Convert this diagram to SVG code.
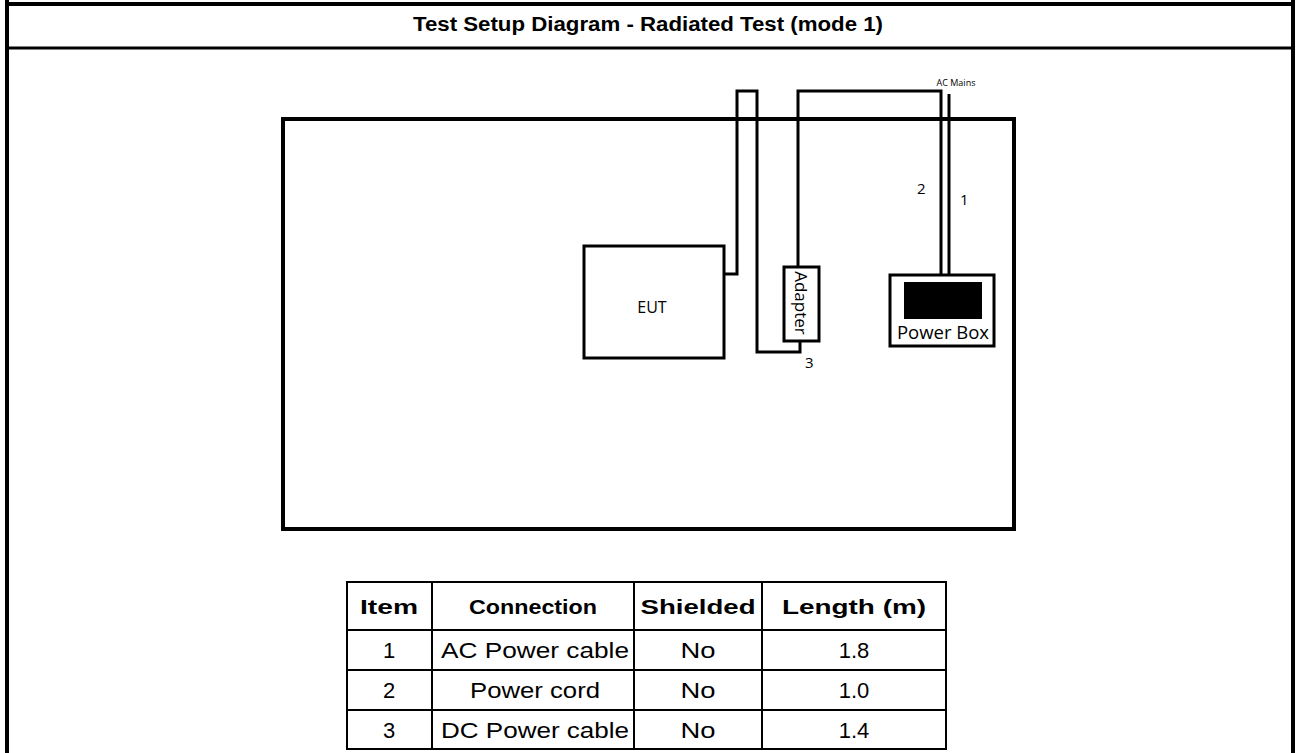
<svg xmlns="http://www.w3.org/2000/svg" width="1296" height="753" viewBox="0 0 1296 753">
<style>
.frame{fill:none;stroke:#000;stroke-width:4}
.cable{fill:none;stroke:#000;stroke-width:3}
.box{fill:#fff;stroke:#000;stroke-width:3}
.lbl{font-family:"Open Sans","Liberation Sans",sans-serif;fill:#000}
.tt{font-family:"Liberation Sans",Arial,sans-serif;font-size:20px;font-weight:bold;fill:#000;text-anchor:middle}
.th{font-family:"Liberation Sans",Arial,sans-serif;font-size:21px;font-weight:bold;text-anchor:middle}
.td{font-family:"Liberation Sans",Arial,sans-serif;font-size:22px;text-anchor:middle}
.tl{stroke:#000;stroke-width:2;fill:none}
</style>
<rect width="1296" height="753" fill="#fff"/>
<g id="frame">
<line x1="7" y1="0" x2="7" y2="753" class="frame"/>
<line x1="1293" y1="0" x2="1293" y2="753" class="frame"/>
<line x1="5" y1="4" x2="1295" y2="4" class="frame"/>
<line x1="5" y1="48" x2="1295" y2="48" stroke="#000" stroke-width="3"/>
<text x="648" y="31" class="tt" textLength="470" lengthAdjust="spacingAndGlyphs">Test Setup Diagram - Radiated Test (mode 1)</text>
</g>
<g id="board"><rect x="283" y="119" width="731" height="410" class="frame"/></g>
<g id="connectors">
<path d="M724,274 H737 V91 H757 V352 H800 V341" class="cable"/>
<path d="M798,267 V91 H941 V283" class="cable"/>
<path d="M949,94 V275" class="cable"/>
</g>
<g id="eut"><rect x="584" y="246" width="140" height="112" class="box"/><text x="652" y="313" class="lbl" style="font-size:16px" text-anchor="middle">EUT</text></g>
<g id="adapter"><rect x="784" y="267" width="35" height="74" class="box"/><text x="0" y="0" class="lbl" style="font-size:17px" text-anchor="middle" transform="translate(795,303) rotate(90)">Adapter</text></g>
<g id="powerbox"><rect x="890" y="275" width="104" height="71" class="box"/><rect x="904" y="282" width="78" height="37" fill="#000"/><text x="943" y="339" class="lbl" style="font-size:18.5px" text-anchor="middle">Power Box</text></g>
<g id="labels">
<text x="956" y="86" class="lbl" style="font-size:9px" text-anchor="middle">AC Mains</text>
<text x="917" y="194" class="lbl" style="font-size:15px">2</text>
<text x="960" y="205" class="lbl" style="font-size:15px">1</text>
<text x="805" y="368" class="lbl" style="font-size:15px">3</text>
</g>
<g id="table">
<rect x="347" y="582" width="599" height="167" class="tl"/>
<line x1="347" y1="630" x2="946" y2="630" class="tl"/>
<line x1="347" y1="670" x2="946" y2="670" class="tl"/>
<line x1="347" y1="710" x2="946" y2="710" class="tl"/>
<line x1="432" y1="582" x2="432" y2="749" class="tl"/>
<line x1="634" y1="582" x2="634" y2="749" class="tl"/>
<line x1="762" y1="582" x2="762" y2="749" class="tl"/>
<text x="389" y="614" class="th" textLength="58" lengthAdjust="spacingAndGlyphs">Item</text>
<text x="533" y="614" class="th" textLength="128" lengthAdjust="spacingAndGlyphs">Connection</text>
<text x="698" y="614" class="th" textLength="115" lengthAdjust="spacingAndGlyphs">Shielded</text>
<text x="854" y="614" class="th" textLength="144" lengthAdjust="spacingAndGlyphs">Length (m)</text>
<text x="389" y="658" class="td">1</text>
<text x="535" y="658" class="td" textLength="188" lengthAdjust="spacingAndGlyphs">AC Power cable</text>
<text x="698" y="658" class="td" textLength="35" lengthAdjust="spacingAndGlyphs">No</text>
<text x="854" y="658" class="td">1.8</text>
<text x="389" y="698" class="td">2</text>
<text x="535" y="698" class="td" textLength="130" lengthAdjust="spacingAndGlyphs">Power cord</text>
<text x="698" y="698" class="td" textLength="35" lengthAdjust="spacingAndGlyphs">No</text>
<text x="854" y="698" class="td">1.0</text>
<text x="389" y="738" class="td">3</text>
<text x="535" y="738" class="td" textLength="188" lengthAdjust="spacingAndGlyphs">DC Power cable</text>
<text x="698" y="738" class="td" textLength="35" lengthAdjust="spacingAndGlyphs">No</text>
<text x="854" y="738" class="td">1.4</text>
</g>
</svg>
